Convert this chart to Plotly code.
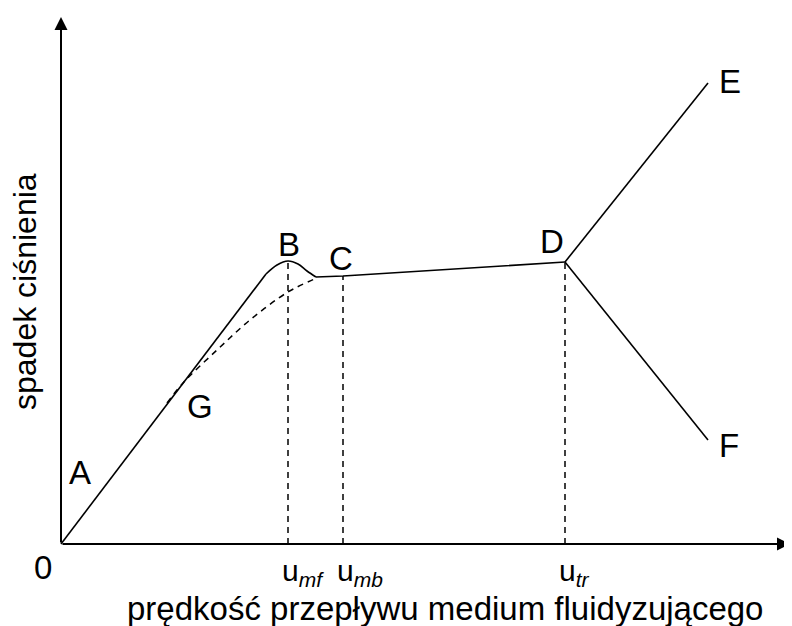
import plotly.graph_objects as go

# ---- data (x: velocity units, y: pressure-drop units, origin at 0) ----
fixed_bed_x = [0, 205]
fixed_bed_y = [0, 270]
hump_x = [205, 216, 227, 237, 246, 255]
hump_y = [270, 279, 283, 280, 273, 267]
fluid_x = [255, 282, 504]
fluid_y = [267, 268, 282]
branch_e_x = [504, 647]
branch_e_y = [282, 461]
branch_f_x = [504, 647]
branch_f_y = [282, 104]
dashed_x = [106, 122, 156, 189, 227, 256]
dashed_y = [141, 161, 194, 224, 252, 266]

tick_vals = [227, 282, 504]
tick_tops = [283, 268, 282]
tick_labels = ["u<sub><i>mf</i></sub>", "u<sub><i>mb</i></sub>", "u<sub><i>tr</i></sub>"]

point_labels = ["A", "B", "C", "D", "E", "F", "G"]
point_x = [19, 228, 280, 491, 669, 668, 139]
point_y = [72, 300, 286, 303, 463, 99, 138]

x_title = "prędkość przepływu medium fluidyzującego"
y_title = "spadek ciśnienia"

FONT = "Liberation Sans, Arial, sans-serif"
fig = go.Figure()
solid = dict(color="black", width=1.6)
fig.add_trace(go.Scatter(x=fixed_bed_x, y=fixed_bed_y, mode="lines", line=solid))
fig.add_trace(go.Scatter(x=hump_x, y=hump_y, mode="lines", line=dict(shape="spline", **solid)))
fig.add_trace(go.Scatter(x=fluid_x, y=fluid_y, mode="lines", line=solid))
fig.add_trace(go.Scatter(x=branch_e_x, y=branch_e_y, mode="lines", line=solid))
fig.add_trace(go.Scatter(x=branch_f_x, y=branch_f_y, mode="lines", line=solid))
fig.add_trace(go.Scatter(x=dashed_x, y=dashed_y, mode="lines",
                         line=dict(color="black", width=1.5, dash="6px,5px", shape="spline")))
for xv, top in zip(tick_vals, tick_tops):
    fig.add_trace(go.Scatter(x=[xv, xv], y=[0, top], mode="lines",
                             line=dict(color="black", width=1.5, dash="6px,5px")))

ann = []
# axes arrows
ann.append(dict(x=729, y=0, ax=0, ay=0, xref="x", yref="y", axref="x", ayref="y",
                showarrow=True, arrowhead=2, arrowsize=1.3, arrowwidth=2, arrowcolor="black", text=""))
ann.append(dict(x=0, y=527, ax=0, ay=0, xref="x", yref="y", axref="x", ayref="y",
                showarrow=True, arrowhead=2, arrowsize=1.3, arrowwidth=2, arrowcolor="black", text=""))
for t, xv, yv in zip(point_labels, point_x, point_y):
    ann.append(dict(x=xv, y=yv, text=t, showarrow=False, font=dict(size=33, family=FONT, color="black"),
                    xanchor="center", yanchor="middle"))
ann.append(dict(x=-18, y=-23, text="0", showarrow=False, font=dict(size=33, family=FONT, color="black"),
                xanchor="center", yanchor="middle"))
for xv, t in zip(tick_vals, tick_labels):
    ann.append(dict(x=xv, y=-28, text=t, showarrow=False, xshift=-8, xanchor="left", yanchor="middle",
                    font=dict(size=30, family=FONT, color="black")))
ann.append(dict(x=384, y=-64, text=x_title, showarrow=False, xanchor="center", yanchor="middle",
                font=dict(size=33, family=FONT, color="black")))
ann.append(dict(x=-36, y=252, text=y_title, showarrow=False, textangle=-90, xanchor="center", yanchor="middle",
                font=dict(size=32, family=FONT, color="black")))

# the page body adds an 8px offset; ranges compensate so the origin lands where the reference has it
fig.update_layout(
    width=792, height=626, margin=dict(l=0, r=0, t=0, b=0),
    paper_bgcolor="white", plot_bgcolor="white", showlegend=False,
    xaxis=dict(range=[-53, 739], visible=False, fixedrange=True),
    yaxis=dict(range=[-90, 536], visible=False, fixedrange=True),
    annotations=ann,
)
fig.write_html("out.html")
